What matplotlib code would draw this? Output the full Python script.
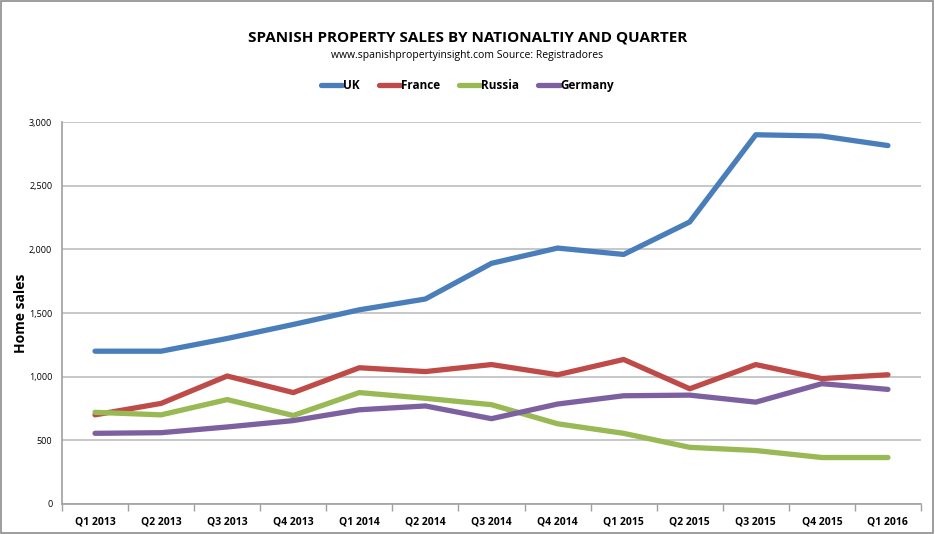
"""
Spanish property sales by nationality and quarter
"""

import matplotlib.pyplot as plt
import numpy as np
from matplotlib.patches import Rectangle

quarters = ["Q1 2013", "Q2 2013", "Q3 2013", "Q4 2013", "Q1 2014", "Q2 2014", "Q3 2014",
            "Q4 2014", "Q1 2015", "Q2 2015", "Q3 2015", "Q4 2015", "Q1 2016"]
uk      = [1200, 1200, 1300, 1410, 1525, 1610, 1890, 2010, 1960, 2215, 2900, 2890, 2815]
france  = [700, 790, 1005, 875, 1070, 1040, 1095, 1015, 1135, 905, 1095, 985, 1015]
russia  = [720, 700, 820, 695, 875, 830, 780, 630, 555, 445, 420, 365, 365]
germany = [555, 560, 605, 655, 740, 770, 670, 785, 850, 855, 800, 945, 900]

series = [("UK", uk, "#4A7EBB"), ("France", france, "#BE4B48"),
          ("Russia", russia, "#98B954"), ("Germany", germany, "#7D60A0")]

plt.rcParams['font.family'] = ['Open Sans', 'DejaVu Sans']

fig = plt.figure(figsize=(9.35, 5.34), dpi=100)
ax = fig.add_axes([0.0663, 0.0562, 0.9187, 0.7153])

x = np.arange(len(quarters))
for name, vals, col in series:
    ax.plot(x, vals, color=col, lw=3.8, label=name, solid_capstyle="round", solid_joinstyle="round")

ax.set_xlim(-0.5, len(quarters) - 0.5)
ax.set_ylim(0, 3000)
ax.set_yticks(np.arange(0, 3001, 500))
ax.set_yticklabels([f"{v:,}" for v in range(0, 3001, 500)], fontsize=6.5)
ax.yaxis.grid(True, color="#BEBEBE", lw=1.2)
ax.set_axisbelow(True)
ax.tick_params(axis="y", length=0, pad=7)

# categories: labels centered, tick marks between
ax.set_xticks(x)
ax.set_xticklabels(quarters, fontsize=7.5, fontweight="bold")
ax.set_xticks(np.arange(-0.5, len(quarters), 1), minor=True)
ax.tick_params(axis="x", which="major", length=0, pad=9)
ax.tick_params(axis="x", which="minor", length=5, color="#A0A0A0", width=1)

for s in ["top", "right"]:
    ax.spines[s].set_visible(False)
for s in ["left", "bottom"]:
    ax.spines[s].set_color("#A0A0A0")
    ax.spines[s].set_linewidth(1.2)

ax.set_ylabel("Home sales", fontsize=10, fontweight="bold")
ax.yaxis.set_label_coords(-0.040, 0.5)

fig.text(0.5, 0.930, "SPANISH PROPERTY SALES BY NATIONALTIY AND QUARTER",
         ha="center", va="center", fontsize=11, fontweight="bold")
fig.text(0.5, 0.896, "www.spanishpropertyinsight.com Source: Registradores",
         ha="center", va="center", fontsize=7.5)

fig.legend(loc="center", bbox_to_anchor=(0.5, 0.84), ncol=4, frameon=False,
           prop={"weight": "bold", "size": 8.5}, handlelength=1.8,
           handletextpad=0.1, columnspacing=1.6)

fig.patches.append(Rectangle((0.001, 0.001), 0.997, 0.997, transform=fig.transFigure,
                             fill=False, edgecolor="#8C8C8C", lw=1.2))

fig.savefig("out.png", dpi=100)
